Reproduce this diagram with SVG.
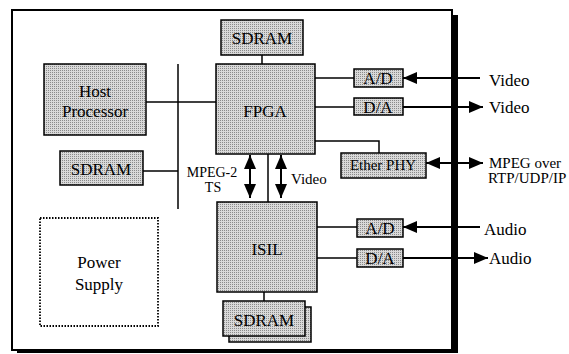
<svg xmlns="http://www.w3.org/2000/svg" width="569" height="354" viewBox="0 0 569 354">
<defs>
<pattern id="dots" width="2" height="2" patternUnits="userSpaceOnUse">
<rect width="2" height="2" fill="#d9d9d9"/>
<rect width="1" height="1" fill="#8a8a8a"/>
</pattern>
<marker id="ah" viewBox="0 0 14 12" refX="14" refY="6" markerWidth="14" markerHeight="12" markerUnits="userSpaceOnUse" orient="auto-start-reverse">
<path d="M0,0 L14,6 L0,12 Z" fill="#000"/>
</marker>
<style>
.box{fill:url(#dots);stroke:#000;stroke-width:1.5}
.t{font-family:"Liberation Serif","DejaVu Serif",serif;fill:#000;text-anchor:middle}
.l{font-family:"Liberation Serif","DejaVu Serif",serif;fill:#000}
.w{fill:none;stroke:#000;stroke-width:1.5}
.a{fill:none;stroke:#000;stroke-width:2}
</style>
</defs>
<rect width="569" height="354" fill="#fff"/>
<g id="frame">
<rect x="17" y="15" width="441" height="338" fill="#000"/>
<rect x="12" y="10" width="440" height="340" fill="#fff" stroke="#000" stroke-width="2"/>
</g>
<g id="connectors">
<line class="w" x1="262" y1="55" x2="262" y2="64"/>
<line class="w" x1="178" y1="64" x2="178" y2="209"/>
<line class="w" x1="146" y1="102" x2="216" y2="102"/>
<line class="w" x1="143" y1="171" x2="178" y2="171"/>
<line class="w" x1="315" y1="78" x2="354" y2="78"/>
<line class="w" x1="315" y1="107" x2="354" y2="107"/>
<polyline class="w" points="315,141 379,141 379,153"/>
<line class="w" x1="317" y1="227" x2="357" y2="227"/>
<line class="w" x1="317" y1="258" x2="357" y2="258"/>
<line class="w" x1="268" y1="154" x2="268" y2="202"/>
<line class="w" x1="264" y1="292" x2="264" y2="301"/>
<line class="a" x1="250" y1="155" x2="250" y2="198" marker-start="url(#ah)" marker-end="url(#ah)"/>
<line class="a" x1="281" y1="155" x2="281" y2="198" marker-start="url(#ah)" marker-end="url(#ah)"/>
<line class="a" x1="480" y1="78" x2="403" y2="78" marker-end="url(#ah)"/>
<line class="a" x1="403" y1="107" x2="483" y2="107" marker-end="url(#ah)"/>
<line class="a" x1="426" y1="163" x2="483" y2="163" marker-start="url(#ah)" marker-end="url(#ah)"/>
<line class="a" x1="480" y1="227" x2="403" y2="227" marker-end="url(#ah)"/>
<line class="a" x1="403" y1="258" x2="488" y2="258" marker-end="url(#ah)"/>
</g>
<g id="sdram-top">
<rect class="box" x="221" y="20" width="82" height="35"/>
<text class="t" x="262" y="44" font-size="17">SDRAM</text>
</g>
<g id="fpga">
<rect class="box" x="216" y="64" width="99" height="90"/>
<text class="t" x="265" y="117" font-size="17">FPGA</text>
</g>
<g id="host">
<rect class="box" x="44" y="64" width="102" height="71"/>
<text class="t" x="95" y="97" font-size="17">Host</text>
<text class="t" x="95" y="117" font-size="17">Processor</text>
</g>
<g id="sdram-left">
<rect class="box" x="60" y="151" width="83" height="34"/>
<text class="t" x="101" y="175" font-size="17">SDRAM</text>
</g>
<g id="isil">
<rect class="box" x="217" y="202" width="100" height="90"/>
<text class="t" x="267" y="255" font-size="17">ISIL</text>
</g>
<g id="sdram-bottom">
<rect class="box" x="229" y="307" width="82" height="35"/>
<rect class="box" x="223" y="301" width="82" height="35"/>
<text class="t" x="264" y="326" font-size="17">SDRAM</text>
</g>
<g id="ad-video">
<rect class="box" x="354" y="69" width="49" height="18"/>
<text class="t" x="378" y="84" font-size="17">A/D</text>
</g>
<g id="da-video">
<rect class="box" x="354" y="98" width="49" height="17"/>
<text class="t" x="378" y="113" font-size="17">D/A</text>
</g>
<g id="ether">
<rect class="box" x="341" y="153" width="85" height="25"/>
<text class="t" x="383" y="170" font-size="15">Ether PHY</text>
</g>
<g id="ad-audio">
<rect class="box" x="357" y="219" width="46" height="18"/>
<text class="t" x="380" y="234" font-size="17">A/D</text>
</g>
<g id="da-audio">
<rect class="box" x="357" y="249" width="46" height="18"/>
<text class="t" x="380" y="264" font-size="17">D/A</text>
</g>
<g id="power">
<rect x="40" y="218" width="118" height="108" fill="#fff" stroke="#000" stroke-width="1.8" stroke-dasharray="1.5 1.5"/>
<text class="t" x="99" y="268" font-size="17">Power</text>
<text class="t" x="99" y="290" font-size="17">Supply</text>
</g>
<g id="labels">
<text class="t" x="212" y="177" font-size="14">MPEG-2</text>
<text class="t" x="213" y="192" font-size="14">TS</text>
<text class="l" x="291" y="184" font-size="15">Video</text>
<text class="l" x="489" y="86" font-size="17">Video</text>
<text class="l" x="489" y="113" font-size="17">Video</text>
<text class="l" x="489" y="168" font-size="15">MPEG over</text>
<text class="l" x="488" y="183" font-size="15">RTP/UDP/IP</text>
<text class="l" x="484" y="235" font-size="17">Audio</text>
<text class="l" x="489" y="264" font-size="17">Audio</text>
</g>
</svg>
